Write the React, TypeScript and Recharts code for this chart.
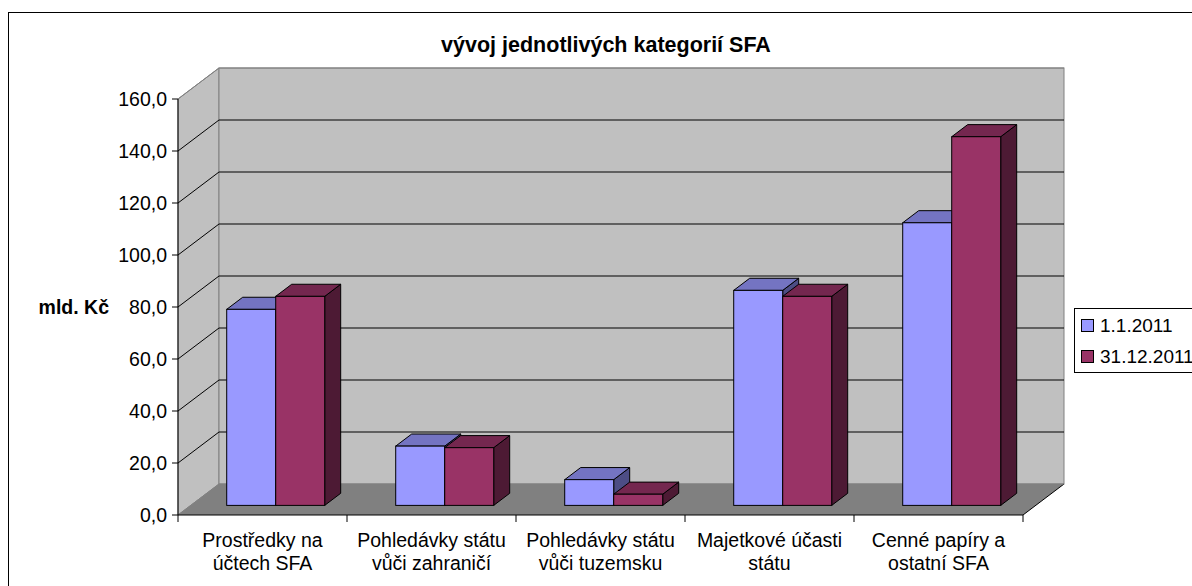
import { BarChart, Bar, XAxis, YAxis, CartesianGrid, ReferenceArea, Legend } from 'recharts'

const categories = [
  'Prostředky na\núčtech SFA',
  'Pohledávky státu\nvůči zahraničí',
  'Pohledávky státu\nvůči tuzemsku',
  'Majetkové účasti\nstátu',
  'Cenné papíry a\nostatní SFA',
]
const start2011 = [75.4, 22.8, 9.9, 82.7, 108.7]
const end2011 = [80.4, 22.2, 4.3, 80.4, 141.8]
const yTicks = [0, 20, 40, 60, 80, 100, 120, 140, 160]
const seriesNames = ['1.1.2011', '31.12.2011']

const FONT = '"Liberation Sans", Arial, sans-serif'
// oblique depth of the 3D box
const DX = 41
const DY = 31
const F0 = 0.31
const F1 = 0.7

const blue = { front: '#9999FF', top: '#7474C2', side: '#4D4D85' }
const red = { front: '#993366', top: '#74274F', side: '#4D1A34' }

const data = categories.map((name, i) => ({ name, a: start2011[i], b: end2011[i] }))

// eslint-disable-next-line @typescript-eslint/no-explicit-any
function Bar3D(props: any) {
  const { x, y, width, height, front, top, side } = props
  const fx = x + DX * F0
  const fy = y - DY * F0
  const bx = DX * (F1 - F0)
  const by = DY * (F1 - F0)
  return (
    <g>
      <polygon
        points={`${fx + width},${fy} ${fx + width + bx},${fy - by} ${fx + width + bx},${fy + height - by} ${fx + width},${fy + height}`}
        fill={side}
        stroke="#000"
      />
      <polygon
        points={`${fx},${fy} ${fx + bx},${fy - by} ${fx + width + bx},${fy - by} ${fx + width},${fy}`}
        fill={top}
        stroke="#000"
      />
      <rect x={fx} y={fy} width={width} height={height} fill={front} stroke="#000" />
    </g>
  )
}

// eslint-disable-next-line @typescript-eslint/no-explicit-any
function Walls(props: any) {
  const { x, y, width: w, height: h } = props
  return (
    <g>
      <polygon
        points={`${x},${y} ${x + DX},${y - DY} ${x + DX},${y + h - DY} ${x},${y + h}`}
        fill="#C0C0C0"
        stroke="#808080"
      />
      <rect x={x + DX} y={y - DY} width={w} height={h} fill="#C0C0C0" stroke="#808080" />
      <polygon
        points={`${x},${y + h} ${x + w},${y + h} ${x + w + DX},${y + h - DY} ${x + DX},${y + h - DY}`}
        fill="#808080"
      />
      <line x1={x + w} y1={y + h} x2={x + w + DX} y2={y + h - DY} stroke="#000" />
    </g>
  )
}

// eslint-disable-next-line @typescript-eslint/no-explicit-any
function gridLine(p: any) {
  const { x1, y1, x2, y2, index } = p
  const edge = index === 0 || index === yTicks.length - 1
  const c = edge ? '#808080' : '#000'
  return (
    <g key={`g-${index}`}>
      <line x1={x1} y1={y1} x2={x1 + DX} y2={y1 - DY} stroke={c} />
      <line x1={x1 + DX} y1={y1 - DY} x2={x2 + DX} y2={y2 - DY} stroke={c} />
    </g>
  )
}

// eslint-disable-next-line @typescript-eslint/no-explicit-any
function CatTick(props: any) {
  const { x, y, payload } = props
  const half = payload?.offset || 84.5
  const lines = String(payload.value).split('\n')
  return (
    <g>
      {payload.index === 0 && <line x1={x - half} y1={y} x2={x - half} y2={y + 7} stroke="#000" />}
      <line x1={x + half} y1={y} x2={x + half} y2={y + 7} stroke="#000" />
      {lines.map((t, i) => (
        <text key={i} x={x} y={y + 32 + i * 23} textAnchor="middle" fontSize={19.5} fill="#000" fontFamily={FONT}>
          {t}
        </text>
      ))}
    </g>
  )
}

// eslint-disable-next-line @typescript-eslint/no-explicit-any
function YLabel(props: any) {
  const vb = props.viewBox || { x: 108, y: 99, width: 70, height: 416 }
  return (
    <text
      x={vb.x + 1}
      y={vb.y + vb.height / 2 + 7}
      textAnchor="end"
      fontSize={19.5}
      fontWeight="bold"
      fill="#000"
      fontFamily={FONT}
    >
      mld. Kč
    </text>
  )
}

function LegendBox() {
  const cols = [blue.front, red.front]
  return (
    <div
      style={{
        border: '1px solid #000',
        background: '#fff',
        paddingTop: 1,
        paddingLeft: 6,
        width: 190,
        fontFamily: FONT,
        fontSize: 19,
        color: '#000',
      }}
    >
      {seriesNames.map((n, i) => (
        <div key={n} style={{ height: 31, lineHeight: '31px', display: 'flex', alignItems: 'center' }}>
          <span
            style={{
              display: 'inline-block',
              width: 11,
              height: 11,
              border: '1px solid #000',
              background: cols[i],
              marginRight: 6,
            }}
          />
          <span>{n}</span>
        </div>
      ))}
    </div>
  )
}

export default function App() {
  return (
    <div
      style={{
        position: 'absolute',
        left: 0,
        top: 0,
        width: 1192,
        height: 586,
        overflow: 'hidden',
        background: '#fff',
        fontFamily: FONT,
      }}
    >
      <div
        style={{
          position: 'absolute',
          left: 8,
          top: 12,
          width: 2000,
          height: 2000,
          border: '1px solid #000',
        }}
      />
      <BarChart
        width={1192}
        height={586}
        data={data}
        margin={{ top: 99, right: 169, bottom: 11, left: 108 }}
        barCategoryGap={36}
        barGap={0}
      >
        <ReferenceArea y1={0} y2={160} shape={Walls} zIndex={-200} ifOverflow="visible" />
        <CartesianGrid vertical={false} horizontal={gridLine} zIndex={-150} />
        <Bar
          dataKey="a"
          name={seriesNames[0]}
          isAnimationActive={false}
          shape={(p: unknown) => <Bar3D {...(p as object)} {...blue} />}
        />
        <Bar
          dataKey="b"
          name={seriesNames[1]}
          isAnimationActive={false}
          shape={(p: unknown) => <Bar3D {...(p as object)} {...red} />}
        />
        <XAxis
          dataKey="name"
          interval={0}
          height={60}
          tickSize={0}
          tickMargin={0}
          tickLine={false}
          axisLine={{ stroke: '#000' }}
          tick={<CatTick />}
        />
        <YAxis
          type="number"
          domain={[0, 160]}
          ticks={yTicks}
          interval={0}
          width={70}
          tickSize={6}
          tickMargin={5}
          tickLine={{ stroke: '#000' }}
          axisLine={{ stroke: '#000' }}
          tick={{ fill: '#000', fontSize: 19.5, fontFamily: FONT }}
          tickFormatter={(v: number) => v.toFixed(1).replace('.', ',')}
          label={{ content: <YLabel /> }}
        />
        <Legend
          layout="horizontal"
          verticalAlign="middle"
          align="center"
          wrapperStyle={{ left: 1074, top: 308, width: 200 }}
          content={<LegendBox />}
        />
      </BarChart>
      <svg style={{ position: 'absolute', left: 0, top: 0 }} width={1192} height={80}>
        <text x={606} y={52} textAnchor="middle" fontSize={21.5} fontWeight="bold" fill="#000" fontFamily={FONT}>
          vývoj jednotlivých kategorií SFA
        </text>
      </svg>
    </div>
  )
}
